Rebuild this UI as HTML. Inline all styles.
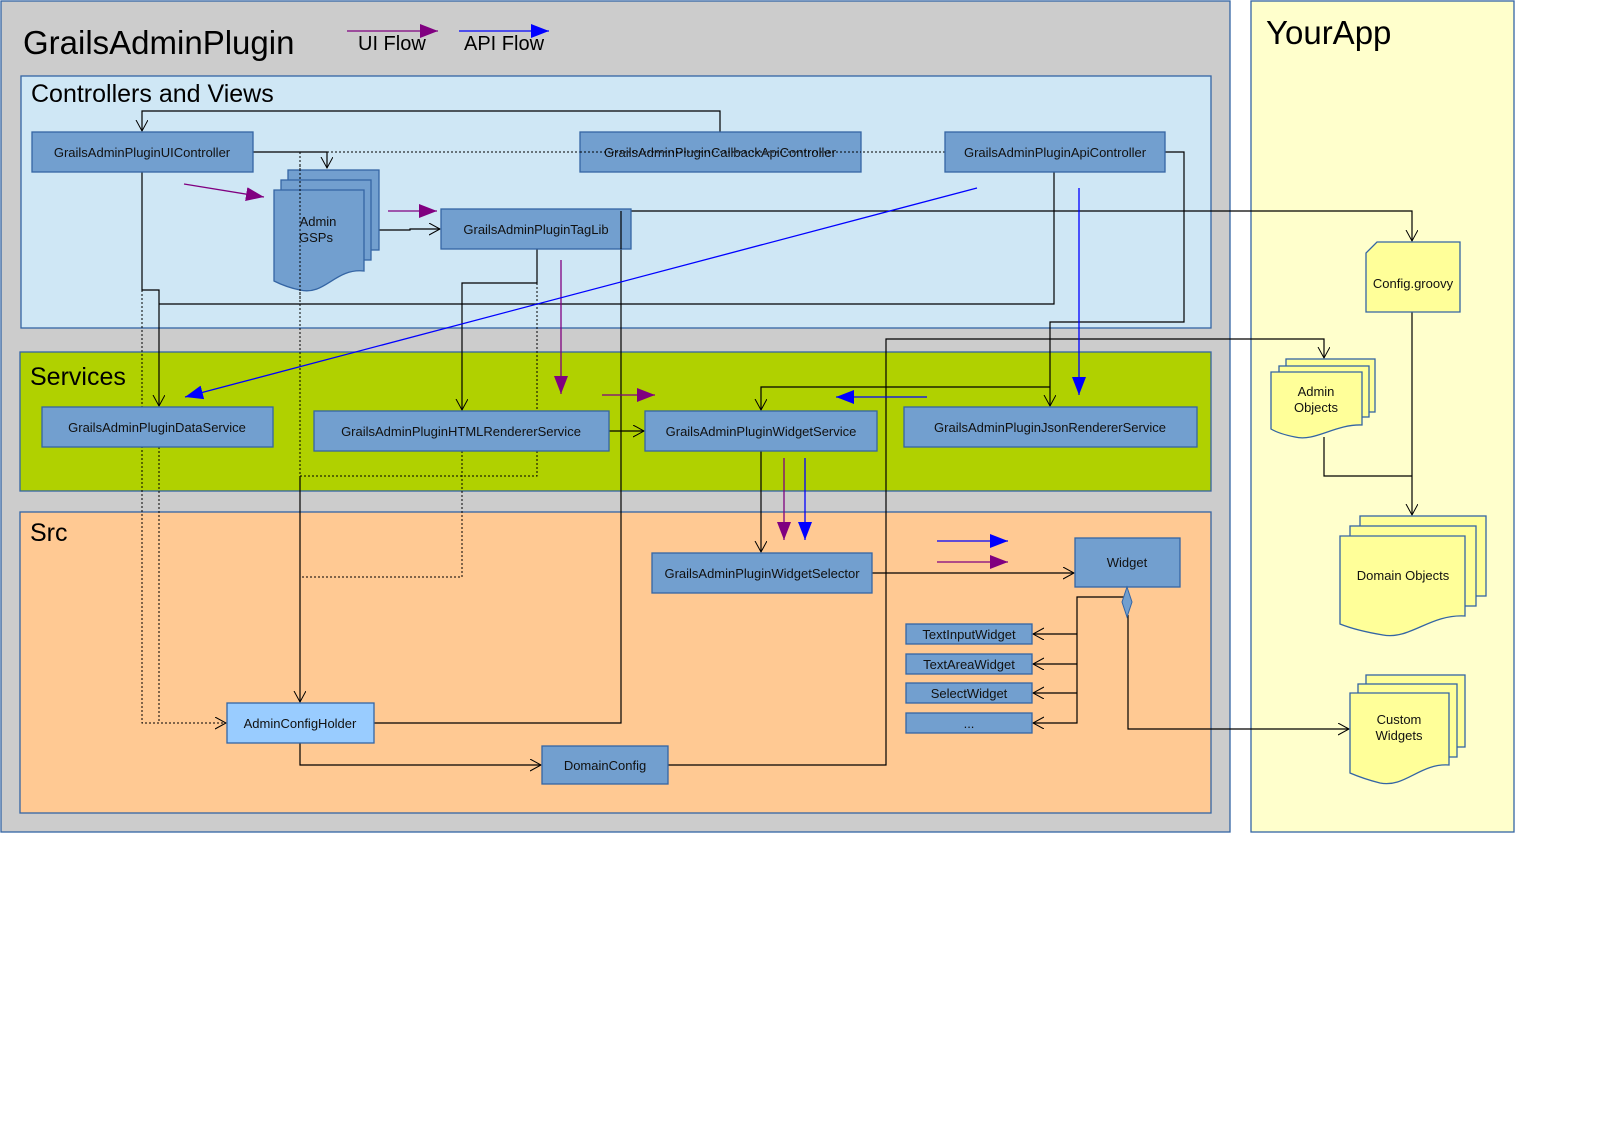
<!DOCTYPE html>
<html><head><meta charset="utf-8"><style>
html,body{margin:0;padding:0;background:#fff;}
svg{display:block;font-family:"Liberation Sans",sans-serif;}
.b{fill:#729fcf;stroke:#3465a4;stroke-width:1.3;}
.t{font-size:13px;fill:#111;text-anchor:middle;}
.l{fill:none;stroke:#000;stroke-width:1.2;}
.d{fill:none;stroke:#000;stroke-width:1;stroke-dasharray:2,2;}
.y{fill:#ffff99;stroke:#3465a4;stroke-width:1.3;}
</style></head><body>
<svg width="1604" height="1134" viewBox="0 0 1604 1134" xmlns="http://www.w3.org/2000/svg">
<defs>
<marker id="o" markerUnits="userSpaceOnUse" markerWidth="14" markerHeight="14" refX="11" refY="6" orient="auto"><path d="M0,0 L11,6 L0,12" fill="none" stroke="#000" stroke-width="1"/></marker>
<marker id="p" markerUnits="userSpaceOnUse" markerWidth="20" markerHeight="16" refX="18" refY="7" orient="auto"><path d="M0,0 L18,7 L0,14 Z" fill="#800080"/></marker>
<marker id="q" markerUnits="userSpaceOnUse" markerWidth="20" markerHeight="16" refX="18" refY="7" orient="auto"><path d="M0,0 L18,7 L0,14 Z" fill="#0000ff"/></marker>
</defs>
<!-- panels -->
<rect x="1" y="1" width="1229" height="831" fill="#cccccc" stroke="#3465a4" stroke-width="1.3"/>
<rect x="1251" y="1" width="263" height="831" fill="#ffffcc" stroke="#3465a4" stroke-width="1.3"/>
<rect x="21" y="76" width="1190" height="252" fill="#cfe7f5" stroke="#3465a4" stroke-width="1.3"/>
<rect x="20" y="352" width="1191" height="139" fill="#b0d100" stroke="#3465a4" stroke-width="1.3"/>
<rect x="20" y="512" width="1191" height="301" fill="#ffc993" stroke="#3465a4" stroke-width="1.3"/>
<text x="23" y="54" font-size="33" fill="#000">GrailsAdminPlugin</text>
<text x="1266" y="44" font-size="33" fill="#000">YourApp</text>
<text x="31" y="102" font-size="25" fill="#000">Controllers and Views</text>
<text x="30" y="385" font-size="25" fill="#000">Services</text>
<text x="30" y="541" font-size="25" fill="#000">Src</text>
<!-- legend -->
<line x1="347" y1="31" x2="438" y2="31" stroke="#800080" stroke-width="1.3" marker-end="url(#p)"/>
<line x1="459" y1="31" x2="549" y2="31" stroke="#0000ff" stroke-width="1.3" marker-end="url(#q)"/>
<text x="358" y="50" font-size="20">UI Flow</text>
<text x="464" y="50" font-size="20">API Flow</text>

<!-- connectors -->
<path class="l" d="M720,132 V111 H142 V131" marker-end="url(#o)"/>
<path class="l" d="M253,152 H327 V168" marker-end="url(#o)"/>
<path class="d" d="M327,152 H945"/>
<path class="l" d="M142,172 V290 H159 V406" marker-end="url(#o)"/>
<path class="l" d="M159,304 H1054 V172"/>
<path class="d" d="M142,290 V723 H226" marker-end="url(#o)"/>
<path class="d" d="M159,447 V723"/>
<path class="d" d="M300,152 V476 H537 V283"/>
<path class="l" d="M300,476 V702" marker-end="url(#o)"/>
<path class="d" d="M462,451 V577 H300"/>
<path class="l" d="M537,249 V283 H462 V410" marker-end="url(#o)"/>
<path class="l" d="M379,230 H410 V229 H440" marker-end="url(#o)"/>
<path class="l" d="M374,723 H621 V211 H1412 V241" marker-end="url(#o)"/>
<path class="l" d="M609,431 H644" marker-end="url(#o)"/>
<path class="l" d="M1165,152 H1184 V322 H1050 V406" marker-end="url(#o)"/>
<path class="l" d="M1050,387 H761 V410" marker-end="url(#o)"/>
<path class="l" d="M761,451 V552" marker-end="url(#o)"/>
<path class="l" d="M668,765 H886 V339 H1324 V358" marker-end="url(#o)"/>
<path class="l" d="M300,743 V765 H541" marker-end="url(#o)"/>
<path class="l" d="M872,573 H1074" marker-end="url(#o)"/>
<path class="l" d="M1127,597 H1077 V723 H1033" marker-end="url(#o)"/>
<path class="l" d="M1077,634 H1033" marker-end="url(#o)"/>
<path class="l" d="M1077,664 H1033" marker-end="url(#o)"/>
<path class="l" d="M1077,693 H1033" marker-end="url(#o)"/>
<path class="l" d="M1128,615 V729 H1349" marker-end="url(#o)"/>
<path class="l" d="M1412,312 V515" marker-end="url(#o)"/>
<path class="l" d="M1324,437 V476 H1412"/>

<!-- flow arrows -->
<line x1="184" y1="184" x2="264" y2="197" stroke="#800080" stroke-width="1.3" marker-end="url(#p)"/>
<line x1="388" y1="211" x2="437" y2="211" stroke="#800080" stroke-width="1.3" marker-end="url(#p)"/>
<line x1="561" y1="260" x2="561" y2="394" stroke="#800080" stroke-width="1.3" marker-end="url(#p)"/>
<line x1="602" y1="395" x2="655" y2="395" stroke="#800080" stroke-width="1.3" marker-end="url(#p)"/>
<line x1="977" y1="188" x2="185" y2="397" stroke="#0000ff" stroke-width="1.3" marker-end="url(#q)"/>
<line x1="1079" y1="188" x2="1079" y2="395" stroke="#0000ff" stroke-width="1.3" marker-end="url(#q)"/>
<line x1="927" y1="397" x2="836" y2="397" stroke="#0000ff" stroke-width="1.3" marker-end="url(#q)"/>
<line x1="784" y1="458" x2="784" y2="540" stroke="#800080" stroke-width="1.3" marker-end="url(#p)"/>
<line x1="805" y1="458" x2="805" y2="540" stroke="#0000ff" stroke-width="1.3" marker-end="url(#q)"/>
<line x1="937" y1="541" x2="1008" y2="541" stroke="#0000ff" stroke-width="1.3" marker-end="url(#q)"/>
<line x1="937" y1="562" x2="1008" y2="562" stroke="#800080" stroke-width="1.3" marker-end="url(#p)"/>

<!-- boxes -->
<rect class="b" x="32" y="132" width="221" height="40"/><text class="t" x="142" y="157">GrailsAdminPluginUIController</text>
<rect class="b" x="580" y="132" width="281" height="40"/><text class="t" x="720" y="157">GrailsAdminPluginCallbackApiController</text>
<path class="d" d="M580,152 H861"/>
<rect class="b" x="945" y="132" width="220" height="40"/><text class="t" x="1055" y="157">GrailsAdminPluginApiController</text>
<rect class="b" x="441" y="209" width="190" height="40"/><text class="t" x="536" y="234">GrailsAdminPluginTagLib</text>
<path class="l" d="M621,211 V249"/>
<rect class="b" x="42" y="407" width="231" height="40"/><text class="t" x="157" y="432">GrailsAdminPluginDataService</text>
<rect class="b" x="314" y="411" width="295" height="40"/><text class="t" x="461" y="436">GrailsAdminPluginHTMLRendererService</text>
<rect class="b" x="645" y="411" width="232" height="40"/><text class="t" x="761" y="436">GrailsAdminPluginWidgetService</text>
<rect class="b" x="904" y="407" width="293" height="40"/><text class="t" x="1050" y="432">GrailsAdminPluginJsonRendererService</text>
<rect class="b" x="652" y="553" width="220" height="40"/><text class="t" x="762" y="578">GrailsAdminPluginWidgetSelector</text>
<rect class="b" x="1075" y="538" width="105" height="49"/><text class="t" x="1127" y="567">Widget</text>
<path d="M1127,587 L1132,602 L1127,617 L1122,602 Z" fill="#729fcf" stroke="#3465a4"/>
<rect class="b" x="906" y="624" width="126" height="20"/><text class="t" x="969" y="639">TextInputWidget</text>
<rect class="b" x="906" y="654" width="126" height="20"/><text class="t" x="969" y="669">TextAreaWidget</text>
<rect class="b" x="906" y="683" width="126" height="20"/><text class="t" x="969" y="698">SelectWidget</text>
<rect class="b" x="906" y="713" width="126" height="20"/><text class="t" x="969" y="728">...</text>
<rect x="227" y="703" width="147" height="40" fill="#99ccff" stroke="#3465a4" stroke-width="1.3"/><text class="t" x="300" y="728">AdminConfigHolder</text>
<rect class="b" x="542" y="746" width="126" height="38"/><text class="t" x="605" y="770">DomainConfig</text>

<!-- GSP docs -->
<rect class="b" x="288" y="170" width="91" height="80"/>
<rect class="b" x="281" y="180" width="90" height="80"/>
<path class="b" d="M274,190 H364 V271 C335,268 325,296 300,290 C290,288 280,284 274,281 Z"/>
<text class="t" x="318" y="226">Admin</text><text class="t" x="316" y="242">GSPs</text>
<path class="d" d="M300,165 V300"/>

<!-- yourapp docs -->
<path class="y" d="M1377,242 H1460 V312 H1366 V253 Z"/>
<text class="t" x="1413" y="288">Config.groovy</text>
<rect class="y" x="1286" y="359" width="89" height="53"/>
<rect class="y" x="1279" y="366" width="90" height="51"/>
<path class="y" d="M1271,372 H1362 V425 C1335,424 1315,442 1295,437 C1285,435 1276,432 1271,429 Z"/>
<text class="t" x="1316" y="396">Admin</text><text class="t" x="1316" y="412">Objects</text>
<rect class="y" x="1360" y="516" width="126" height="80"/>
<rect class="y" x="1350" y="526" width="126" height="80"/>
<path class="y" d="M1340,536 H1465 V616 C1430,614 1410,640 1383,635 C1365,632 1350,628 1340,624 Z"/>
<text class="t" x="1403" y="580">Domain Objects</text>
<rect class="y" x="1366" y="675" width="99" height="72"/>
<rect class="y" x="1358" y="684" width="99" height="73"/>
<path class="y" d="M1350,693 H1449 V765 C1420,763 1405,788 1380,783 C1368,780 1357,776 1350,773 Z"/>
<text class="t" x="1399" y="724">Custom</text><text class="t" x="1399" y="740">Widgets</text>
</svg>
</body></html>
